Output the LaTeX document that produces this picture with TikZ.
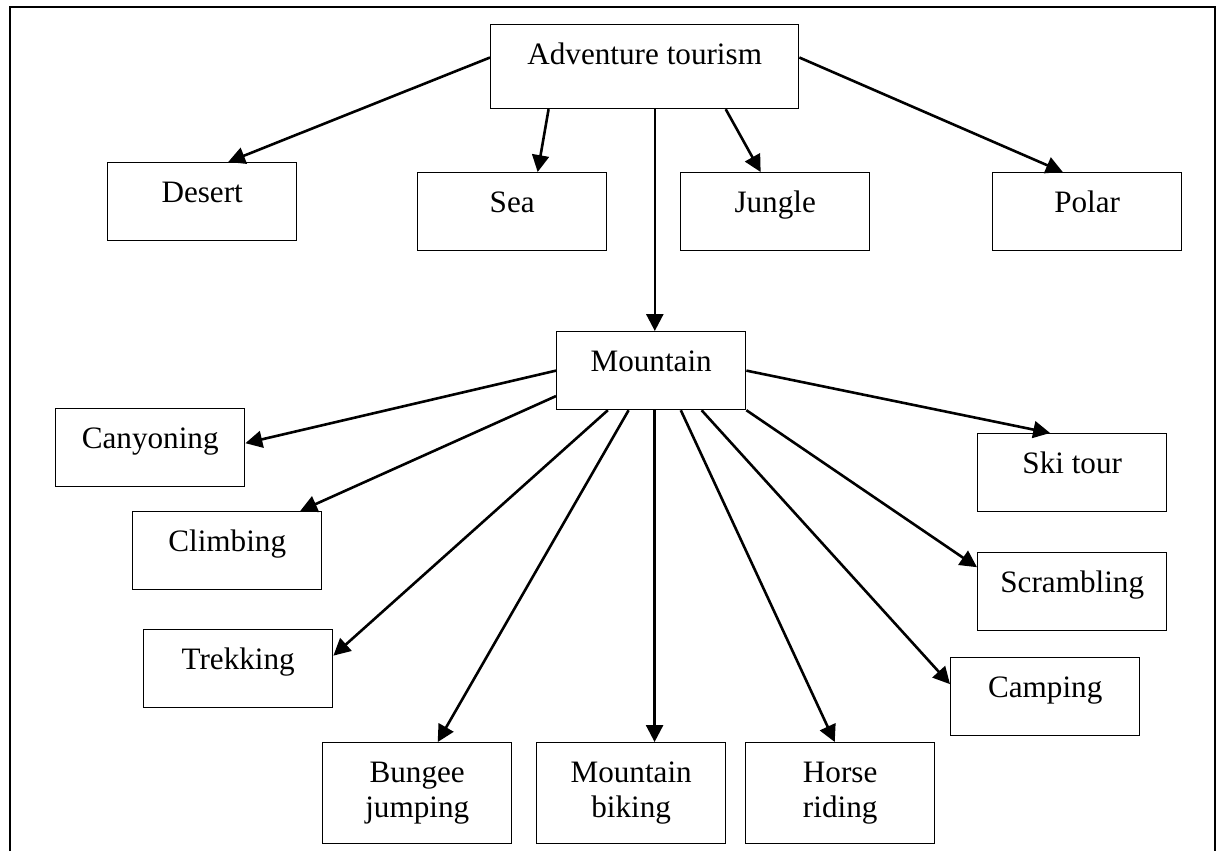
\documentclass[tikz,border=0pt]{standalone}
\usepackage{fontspec}
\setmainfont{Liberation Serif}
\usepackage{xcolor}
\usepackage{tikz}
\usetikzlibrary{arrows.meta, positioning}

\begin{document}
\begin{tikzpicture}[
    x=0.385pt, y=-0.385pt,
    font=\fontsize{12}{13.6}\selectfont,
    >={Triangle[length=6.5pt, width=6.5pt]},
    box/.style={rectangle, draw, line width=0.5pt, anchor=north west, minimum width=72.8pt, inner xsep=0pt, inner ysep=0pt, text height=15.4pt, text depth=14.6pt, align=center},
    tallbox/.style={box, text height=29pt, text depth=9.9pt},
    arrow/.style={->, line width=1pt}
]
    \useasboundingbox (0,0) rectangle (1224,851);
    % Outer frame
    \draw[line width=0.8pt] (10,851) -- (10,7) -- (1215,7) -- (1215,851);

    % Adventure tourism
    \node[box, minimum width=118.6pt, text depth=16.9pt] (tourism) at (490,24) {Adventure tourism};
    \node[box] (desert) at (107,162) {Desert};
    \node[box] (sea) at (417,172) {Sea};
    \node[box] (jungle) at (680,172) {Jungle};
    \node[box] (polar) at (992,172) {Polar};
    \node[box] (mountain) at (556,331) {Mountain};

    \draw[arrow] ([yshift=3.5pt]tourism.west) -- ([xshift=10pt]desert.north);
    \draw[arrow] ([xshift=-37pt]tourism.south) -- ([xshift=9.8pt]sea.north);
    \draw[arrow] ([xshift=3.9pt]tourism.south) -- ([xshift=3.9pt]tourism.south |- mountain.north);
    \draw[arrow] ([xshift=31.2pt]tourism.south) -- ([xshift=-5.6pt]jungle.north);
    \draw[arrow] ([yshift=3.5pt]tourism.east) -- ([xshift=-9.4pt]polar.north);

    % Mountain activities
    \node[box] (canyoning) at (55,408) {Canyoning};
    \node[box] (climbing) at (132,511) {Climbing};
    \node[box] (trekking) at (143,629) {Trekking};
    \node[tallbox] (bungee) at (322,742) {Bungee\\jumping};
    \node[tallbox] (mtbike) at (536,742) {Mountain\\biking};
    \node[tallbox] (horse) at (745,742) {Horse\\riding};
    \node[box] (camping) at (950,657) {Camping};
    \node[box] (scrambling) at (977,552) {Scrambling};
    \node[box] (skitour) at (977,433) {Ski tour};

    \draw[arrow] (mountain.west) -- ([yshift=1.7pt]canyoning.east);
    \draw[arrow] ([yshift=-9.8pt]mountain.west) -- ([xshift=28.1pt]climbing.north);
    \draw[arrow] ([xshift=-16.7pt]mountain.south) -- ([yshift=5pt]trekking.east);
    \draw[arrow] ([xshift=-8.7pt]mountain.south) -- ([xshift=7.9pt]bungee.north);
    \draw[arrow] ([xshift=1.3pt]mountain.south) -- ([xshift=1.3pt]mountain.south |- mtbike.north);
    \draw[arrow] ([xshift=11.4pt]mountain.south) -- ([xshift=-2.1pt]horse.north);
    \draw[arrow] ([xshift=19.4pt]mountain.south) -- ([yshift=4.8pt]camping.west);
    \draw[arrow] (mountain.south east) -- ([yshift=9.4pt]scrambling.west);
    \draw[arrow] (mountain.east) -- ([xshift=-8.5pt]skitour.north);
\end{tikzpicture}
\end{document}
